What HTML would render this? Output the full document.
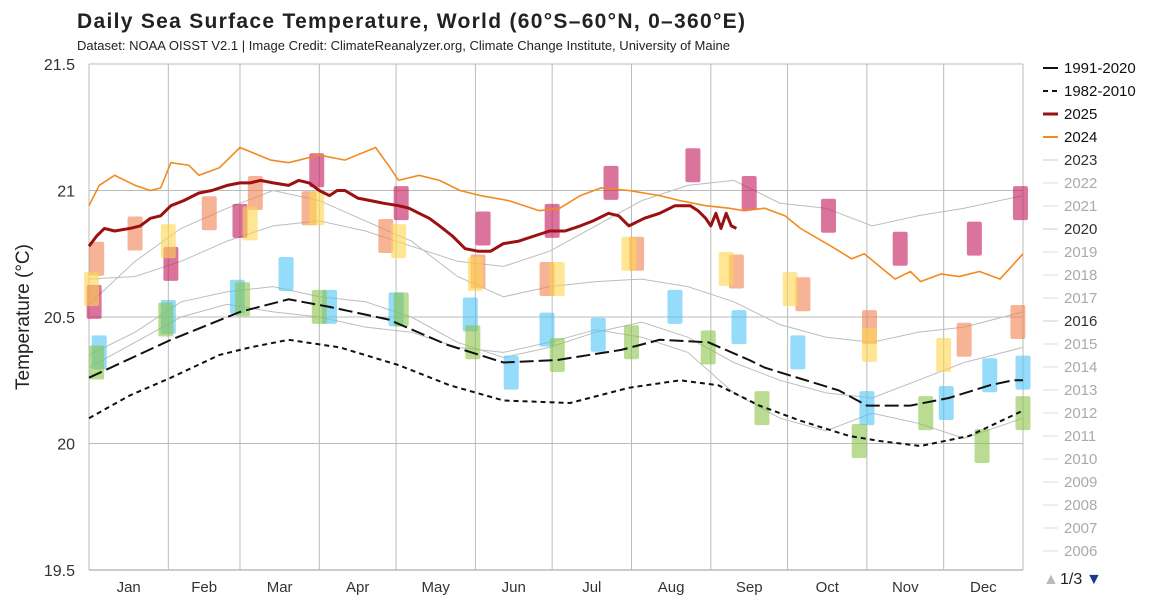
<!DOCTYPE html>
<html><head><meta charset="utf-8">
<style>
body{margin:0;background:#fff;font-family:"Liberation Sans",Arial,sans-serif;}
#wrap{position:relative;width:1150px;height:600px;overflow:hidden;}
</style></head>
<body>
<div id="wrap">
<svg id="chart" width="1150" height="600" xmlns="http://www.w3.org/2000/svg">
<text x="77" y="28" font-size="21" font-weight="bold" fill="#222" letter-spacing="1.3">Daily Sea Surface Temperature, World (60°S–60°N, 0–360°E)</text>
<text x="77" y="50" font-size="13" fill="#222" textLength="653">Dataset: NOAA OISST V2.1 | Image Credit: ClimateReanalyzer.org, Climate Change Institute, University of Maine</text>
<text transform="translate(29,317) rotate(-90)" text-anchor="middle" font-size="19" fill="#222">Temperature (°C)</text>
<g id="grid"></g><g id="gray"></g><g id="marks"></g><g id="lines"></g><g id="axes"></g><g id="legend"></g>
<text x="1043" y="584" font-size="16" fill="#bbb">▲</text>
<text x="1060" y="584" font-size="16" fill="#222">1/3</text>
<text x="1086" y="584" font-size="16" fill="#1a3a8a">▼</text>
</svg>
</div>
<script>
const yTicks=[19.5,20,20.5,21,21.5];
const months=["Jan","Feb","Mar","Apr","May","Jun","Jul","Aug","Sep","Oct","Nov","Dec"];
const monthDays=[31,28,31,30,31,30,31,31,30,31,30,31];
const base9120Days=[0,32,59,78,94,117,140,162,183,208,223,242,258,264,293,304,321,336,352,361,365];
const base9120=[20.26,20.41,20.52,20.57,20.54,20.49,20.39,20.32,20.33,20.37,20.41,20.40,20.33,20.3,20.21,20.15,20.15,20.18,20.23,20.25,20.25];
const base8210Days=[0,16,32,51,63,78,98,121,141,162,188,211,231,246,262,278,297,309,325,344,365];
const base8210=[20.10,20.19,20.26,20.35,20.38,20.41,20.38,20.31,20.23,20.17,20.16,20.22,20.25,20.23,20.15,20.09,20.03,20.01,19.99,20.03,20.13];
const y2025Days=[0,3,6,10,16,20,24,28,32,37,43,48,54,59,63,67,72,78,82,86,90,94,97,100,105,110,115,121,125,129,133,137,142,147,152,157,162,168,174,180,186,192,197,203,207,211,217,223,229,235,238,241,243,245,247,249,251,253];
const y2025=[20.78,20.82,20.85,20.84,20.85,20.86,20.89,20.90,20.94,20.96,20.99,21.0,21.02,21.03,21.03,21.04,21.03,21.02,21.04,21.03,21.0,20.98,21.0,21.0,20.97,20.96,20.95,20.94,20.93,20.91,20.89,20.86,20.82,20.77,20.76,20.76,20.79,20.80,20.82,20.84,20.84,20.86,20.88,20.91,20.90,20.86,20.89,20.91,20.94,20.94,20.92,20.89,20.86,20.91,20.85,20.91,20.86,20.85];
const y2024Days=[0,4,10,18,24,28,32,39,43,51,59,71,78,90,100,112,117,121,129,137,145,153,164,176,184,192,200,211,223,231,241,250,256,264,272,278,290,298,303,315,321,325,333,340,348,356,365];
const y2024=[20.94,21.02,21.06,21.02,21.0,21.01,21.11,21.10,21.06,21.09,21.17,21.12,21.11,21.14,21.12,21.17,21.10,21.04,21.06,21.04,21.0,20.98,20.96,20.92,20.93,20.98,21.01,21.0,20.98,20.96,20.94,20.93,20.92,20.93,20.90,20.85,20.78,20.73,20.75,20.65,20.68,20.64,20.67,20.66,20.68,20.65,20.75];
const grayDays=[0,18,36,54,72,90,108,126,144,162,180,198,216,234,252,270,288,306,324,342,365];
const gray2023=[20.65,20.66,20.72,20.80,20.86,20.88,20.84,20.78,20.72,20.70,20.76,20.86,20.96,21.02,21.04,20.95,20.93,20.86,20.90,20.93,20.98];
const gray2016=[20.55,20.72,20.85,20.93,21.0,20.96,20.88,20.80,20.66,20.58,20.62,20.64,20.65,20.62,20.56,20.47,20.42,20.40,20.44,20.46,20.52];
const gray2020=[20.35,20.44,20.56,20.60,20.62,20.58,20.56,20.50,20.40,20.34,20.38,20.44,20.48,20.42,20.32,20.25,20.20,20.18,20.25,20.32,20.38];
const gray2019=[20.30,20.40,20.50,20.55,20.52,20.50,20.46,20.44,20.38,20.36,20.40,20.45,20.42,20.36,20.20,20.10,20.05,20.12,20.08,20.02,20.10];
const markDays=[2,32,59,89,122,154,181,204,236,258,289,317,346,364, 3,18,47,65,86,116,152,179,214,253,279,305,342,363, 1,31,63,89,121,151,183,211,249,274,305,334, 4,31,58,77,94,120,149,165,179,199,229,254,277,304,335,352,365, 3,30,60,90,122,150,183,212,242,263,301,327,349,366];
const markTemps=[20.56,20.71,20.88,21.08,20.95,20.85,20.88,21.03,21.10,20.99,20.90,20.77,20.81,20.95, 20.73,20.83,20.91,20.99,20.93,20.82,20.68,20.65,20.75,20.68,20.59,20.46,20.41,20.48, 20.61,20.80,20.87,20.93,20.80,20.67,20.65,20.75,20.69,20.61,20.39,20.35, 20.36,20.50,20.58,20.67,20.54,20.53,20.51,20.28,20.45,20.43,20.54,20.46,20.36,20.14,20.16,20.27,20.28, 20.32,20.49,20.57,20.54,20.53,20.40,20.35,20.40,20.38,20.14,20.01,20.12,19.99,20.12];
const markYears=["2023","2023","2023","2023","2023","2023","2023","2023","2023","2023","2023","2023","2023","2023","2018","2018","2018","2018","2018","2018","2018","2018","2018","2018","2018","2018","2018","2018","2017","2017","2017","2017","2017","2017","2017","2017","2017","2017","2017","2017","2015","2015","2015","2015","2015","2015","2015","2015","2015","2015","2015","2015","2015","2015","2015","2015","2015","2012","2012","2012","2012","2012","2012","2012","2012","2012","2012","2012","2012","2012","2012"];
const legendLabels=["1991-2020","1982-2010","2025","2024","2023","2022","2021","2020","2019","2018","2017","2016","2015","2014","2013","2012","2011","2010","2009","2008","2007","2006"];

const NS="http://www.w3.org/2000/svg";
const X0=89,X1=1023,Y0=64,Y1=570;
const xs=d=>X0+(Math.min(d,365)/365)*(X1-X0);
const ys=v=>Y0+(21.5-v)/2*(Y1-Y0);
function mk(tag,parent,attrs){const e=document.createElementNS(NS,tag);for(const k in attrs)e.setAttribute(k,attrs[k]);document.getElementById(parent).appendChild(e);return e;}
yTicks.forEach(t=>{
 const l=mk('line','grid',{x1:X0,x2:X1,y1:ys(t),y2:ys(t),stroke:t===19.5?'#999':'#bbb','stroke-width':1});
 
 
 const tx=mk('text','axes',{x:75,y:ys(t)+6,'text-anchor':'end','font-size':16,fill:'#333'});
 tx.textContent=String(t);
 
 
});
let cum=0;
const lx=mk('line','grid',{x1:X0,x2:X0,y1:Y0,y2:Y1,stroke:'#bbb'});


months.forEach((m,i)=>{
 const s=cum;cum+=monthDays[i];
 const l=mk('line','grid',{x1:xs(cum),x2:xs(cum),y1:Y0,y2:Y1,stroke:'#bbb'});
 
 
 const t=mk('text','axes',{x:(xs(s)+xs(cum))/2,y:592,'text-anchor':'middle','font-size':15,fill:'#333'});
 t.textContent=m;
 
 
});
function path(days,vals){return days.map((d,i)=>(i?'L':'M')+xs(d).toFixed(1)+' '+ys(vals[i]).toFixed(1)).join(' ');}
[gray2023,gray2016,gray2020,gray2019].forEach(v=>{
 const p=mk('path','gray',{d:path(grayDays,v),fill:'none',stroke:'#bdbdbd','stroke-width':1});
 
 
});
const colors={"2023":"#c2185b","2018":"#f08050","2017":"#ffd54f","2015":"#4fc3f7","2012":"#8bc34a"};
markDays.forEach((d,i)=>{
 const r=mk('rect','marks',{x:xs(d)-7.5,y:ys(markTemps[i])-17,width:15,height:34,rx:2,fill:colors[markYears[i]]||"#8bc34a",opacity:0.6});
 
 
});
const s1=mk('path','lines',{d:path(base8210Days,base8210),fill:'none',stroke:'#111','stroke-width':2,'stroke-dasharray':'5 4'});


const s2=mk('path','lines',{d:path(base9120Days,base9120),fill:'none',stroke:'#111','stroke-width':2,'stroke-dasharray':'14 5'});


const s3=mk('path','lines',{d:path(y2024Days,y2024),fill:'none',stroke:'#f28a1e','stroke-width':1.6});


const s4=mk('path','lines',{d:path(y2025Days,y2025),fill:'none',stroke:'#9b1010','stroke-width':3,'stroke-linejoin':'round'});


const lstyle={"1991-2020":["#111",2,"",'#111'],"1982-2010":["#111",2,"5 4",'#111'],"2025":["#9b1010",3,"",'#111'],"2024":["#f28a1e",2,"",'#111'],"2023":["#ccc",1,"",'#333'],"2020":["#ccc",1,"",'#333'],"2016":["#ccc",1,"",'#333']};
legendLabels.forEach((lab,i)=>{
 const y=68+i*23;const st=lstyle[lab]||["#ddd",1,"",'#aaa'];
 const l=mk('line','legend',{x1:1043,x2:1058,y1:y,y2:y,stroke:st[0],'stroke-width':st[1],'stroke-dasharray':st[2]});
 
 
 const t=mk('text','legend',{x:1064,y:y+5,'font-size':15,fill:st[3]});
 t.textContent=lab;
 
 
});
</script>
</body></html>
